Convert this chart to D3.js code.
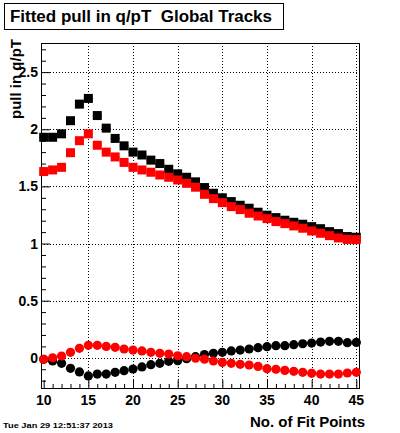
<!DOCTYPE html>
<html><head><meta charset="utf-8">
<script src="https://cdn.jsdelivr.net/npm/d3@7"></script>
<style>body{margin:0;background:#fff}svg{display:block}</style>
</head><body>
<script>
const fitPoints = d3.range(10, 46);
const blackSquares = [1.93,1.93,1.96,2.075,2.22,2.27,2.12,2.01,1.92,1.855,1.80,1.775,1.73,1.70,1.65,1.61,1.58,1.54,1.49,1.44,1.40,1.367,1.335,1.309,1.274,1.248,1.227,1.204,1.186,1.169,1.148,1.130,1.104,1.087,1.061,1.055];
const redSquares = [1.63,1.644,1.667,1.795,1.90,1.96,1.86,1.80,1.758,1.71,1.667,1.644,1.624,1.60,1.58,1.556,1.527,1.493,1.431,1.393,1.358,1.323,1.297,1.265,1.241,1.218,1.192,1.174,1.154,1.134,1.110,1.090,1.069,1.049,1.036,1.034];
const blackCircles = [-0.013,-0.028,-0.048,-0.092,-0.124,-0.159,-0.142,-0.142,-0.127,-0.113,-0.098,-0.08,-0.06,-0.048,-0.031,-0.025,-0.008,0.01,0.028,0.039,0.048,0.06,0.068,0.077,0.089,0.097,0.106,0.106,0.115,0.123,0.129,0.138,0.144,0.144,0.132,0.135];
const redCircles = [-0.013,0.0,0.016,0.048,0.083,0.109,0.109,0.10,0.092,0.077,0.068,0.06,0.048,0.039,0.033,0.018,0.01,-0.004,-0.012,-0.028,-0.04,-0.048,-0.057,-0.063,-0.075,-0.095,-0.1,-0.11,-0.118,-0.127,-0.136,-0.142,-0.142,-0.142,-0.133,-0.127];
const xTicks = [10,15,20,25,30,35,40,45];
const yTicks = [0,0.5,1,1.5,2,2.5];
const titleText = "Fitted pull in q/pT  Global Tracks";
const xTitle = "No. of Fit Points";
const yTitle = "pull in q/pT";
const dateText = "Tue Jan 29 12:51:37 2013";

const W = 400, H = 433;
const L = 41, R = 360, T = 43, B = 389;
const font = "'Liberation Sans', Arial, Helvetica, sans-serif";

const svg = d3.select("body").append("svg").attr("width", W).attr("height", H);
svg.append("rect").attr("width", W).attr("height", H).attr("fill", "#fff");

const x = d3.scaleLinear().domain([9.698, 45.414]).range([L, R]);
const y = d3.scaleLinear().domain([-0.273, 2.755]).range([B, T]);

// grid
const grid = svg.append("g").attr("stroke", "#000").attr("stroke-width", 1).attr("stroke-dasharray", "1,2");
grid.selectAll("line.gx").data(xTicks.filter(d => d > 10)).enter().append("line")
  .attr("x1", d => Math.round(x(d)) + 0.5).attr("x2", d => Math.round(x(d)) + 0.5)
  .attr("y1", T).attr("y2", B);
grid.selectAll("line.gy").data(yTicks).enter().append("line")
  .attr("y1", d => Math.round(y(d)) + 0.5).attr("y2", d => Math.round(y(d)) + 0.5)
  .attr("x1", L).attr("x2", R);

// axes ticks (inside)
const xAxis = d3.axisTop(x).tickValues(d3.range(10, 46)).tickSize(5).tickFormat("");
const gx = svg.append("g").attr("transform", `translate(0,${B})`).call(xAxis);
gx.select(".domain").remove();
gx.selectAll(".tick line").attr("y2", d => d % 5 === 0 ? -9 : -5).attr("stroke", "#000");

const yMinor = d3.range(-0.2, 2.71, 0.1).map(v => Math.round(v * 10) / 10);
const yAxis = d3.axisRight(y).tickValues(yMinor).tickFormat("");
const gy = svg.append("g").attr("transform", `translate(${L},0)`).call(yAxis);
gy.select(".domain").remove();
gy.selectAll(".tick line").attr("x2", d => Math.abs(d * 2 - Math.round(d * 2)) < 1e-6 ? 9 : 5).attr("stroke", "#000");

// tick labels
svg.append("g").selectAll("text").data(xTicks).enter().append("text")
  .attr("x", d => x(d)).attr("y", 405).attr("text-anchor", "middle")
  .attr("font-family", font).attr("font-weight", "bold").attr("font-size", 14)
  .text(d => d);
svg.append("g").selectAll("text").data(yTicks).enter().append("text")
  .attr("x", 38).attr("y", d => y(d) + 5).attr("text-anchor", "end")
  .attr("font-family", font).attr("font-weight", "bold").attr("font-size", 14)
  .text(d => d);

// frame
svg.append("rect").attr("x", L + 0.5).attr("y", T + 0.5).attr("width", R - L - 1).attr("height", B - T - 1)
  .attr("fill", "none").attr("stroke", "#000").attr("stroke-width", 1);

// data
function drawSeries(vals, color, shape) {
  const g = svg.append("g");
  const pts = fitPoints.map((p, i) => ({ p, v: vals[i] }));
  g.selectAll("line").data(pts).enter().append("line")
    .attr("x1", d => x(d.p - 0.5)).attr("x2", d => x(d.p + 0.5))
    .attr("y1", d => y(d.v)).attr("y2", d => y(d.v))
    .attr("stroke", color).attr("stroke-width", 1);
  if (shape === "square") {
    g.selectAll("rect").data(pts).enter().append("rect")
      .attr("x", d => x(d.p) - 4.5).attr("y", d => y(d.v) - 4.5)
      .attr("width", 9).attr("height", 9).attr("fill", color);
  } else {
    g.selectAll("circle").data(pts).enter().append("circle")
      .attr("cx", d => x(d.p)).attr("cy", d => y(d.v)).attr("r", 4.6).attr("fill", color);
  }
}
drawSeries(blackSquares, "#000", "square");
drawSeries(redSquares, "#ff0000", "square");
drawSeries(blackCircles, "#000", "circle");
drawSeries(redCircles, "#ff0000", "circle");

// title box
svg.append("rect").attr("x", 4.5).attr("y", 3.5).attr("width", 279).attr("height", 26)
  .attr("fill", "#fff").attr("stroke", "#000").attr("stroke-width", 1);
svg.append("text").attr("x", 10).attr("y", 22).attr("font-family", font).attr("font-weight", "bold")
  .attr("font-size", 16).attr("xml:space", "preserve").style("white-space", "pre")
  .attr("textLength", 262).attr("lengthAdjust", "spacingAndGlyphs").text(titleText);

// axis titles
svg.append("text").attr("x", 365).attr("y", 427).attr("text-anchor", "end")
  .attr("font-family", font).attr("font-weight", "bold").attr("font-size", 15).text(xTitle);
svg.append("text").attr("transform", "translate(21,39) rotate(-90)").attr("text-anchor", "end")
  .attr("font-family", font).attr("font-weight", "bold").attr("font-size", 15).text(yTitle);

// date
svg.append("text").attr("x", 3).attr("y", 428).attr("font-family", font).attr("font-weight", "bold")
  .attr("font-size", 8).attr("textLength", 110).attr("lengthAdjust", "spacingAndGlyphs").text(dateText);
</script>
</body></html>
